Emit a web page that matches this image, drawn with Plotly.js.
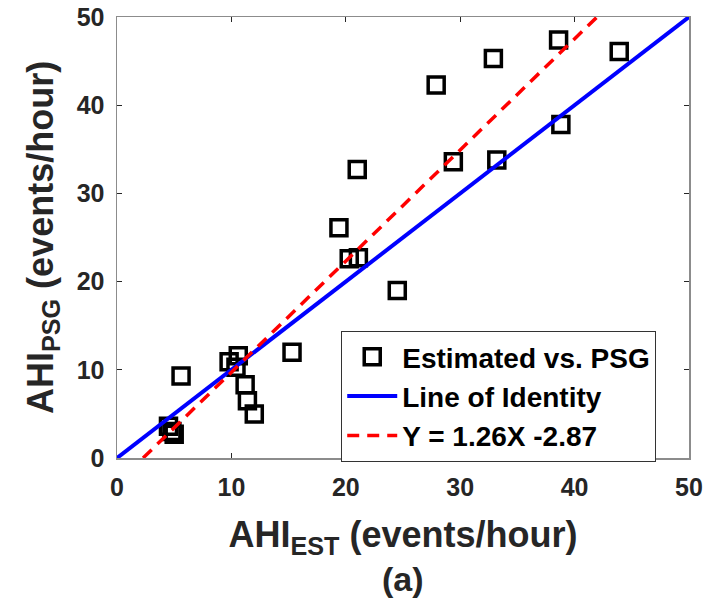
<!DOCTYPE html>
<html>
<head>
<meta charset="utf-8">
<script src="https://cdn.plot.ly/plotly-3.0.1.min.js"></script>
<style>html,body{margin:0;padding:0;background:#fff;}#chart{width:709px;height:613px;}</style>
</head>
<body>
<div id="chart"></div>
<script>
// Data
const ahiEst = [38.6, 43.9, 32.9, 27.9, 38.8, 29.4, 33.2, 21.0, 19.4, 20.3, 21.1, 24.5, 15.3, 9.8, 10.6, 10.4, 5.6, 11.2, 11.4, 12.0, 4.5, 4.8, 5.0];
const ahiPsg = [47.4, 46.1, 45.3, 42.3, 37.8, 33.6, 33.8, 32.7, 26.1, 22.6, 22.7, 19.0, 12.0, 10.9, 11.6, 10.3, 9.3, 8.3, 6.5, 5.0, 3.6, 3.0, 2.7];
const identityX = [0, 50];
const fitSlope = 1.26;
const fitIntercept = -2.87;
const fitX = [(0 - fitIntercept) / fitSlope, (50 - fitIntercept) / fitSlope];
const fitY = fitX.map(x => fitSlope * x + fitIntercept);
const tickVals = [0, 10, 20, 30, 40, 50];

const fontFam = 'Liberation Sans, Arial, sans-serif';
const txtColor = '#262626';

const traces = [
  {
    x: ahiEst, y: ahiPsg, type: 'scatter', mode: 'markers',
    name: 'Estimated vs. PSG',
    marker: {symbol: 'square-open', size: 16, color: '#000', line: {width: 3.5, color: '#000'}},
    cliponaxis: false
  },
  {
    x: identityX, y: identityX, type: 'scatter', mode: 'lines',
    name: 'Line of Identity',
    line: {color: '#0000ff', width: 4}
  },
  {
    x: fitX, y: fitY, type: 'scatter', mode: 'lines',
    name: 'Y = 1.26X -2.87',
    line: {color: '#ff0000', width: 3.5, dash: '12px,8px'}
  }
];

const axisCommon = {
  range: [0, 50], tickvals: tickVals, ticks: 'inside', ticklen: 5, tickwidth: 1,
  tickcolor: '#262626', showline: true, linecolor: '#8c8c8c', linewidth: 1.5,
  mirror: 'ticks', showgrid: false, zeroline: false, ticklabelstandoff: 6,
  tickfont: {family: fontFam, size: 25, color: txtColor, weight: 'bold'}
};

const layout = {
  width: 709, height: 613,
  margin: {l: 117, r: 20, t: 17, b: 155},
  paper_bgcolor: '#fff', plot_bgcolor: '#fff',
  showlegend: true,
  xaxis: Object.assign({}, axisCommon, {
    title: {text: 'AHI<sub>EST</sub> (events/hour)', font: {family: fontFam, size: 36, color: txtColor, weight: 'bold'}, standoff: 22}
  }),
  yaxis: Object.assign({}, axisCommon, {
    title: {text: 'AHI<sub>PSG</sub> (events/hour)', font: {family: fontFam, size: 36, color: txtColor, weight: 'bold'}, standoff: 12}
  }),
  legend: {
    x: 0.392, y: 0.288, xanchor: 'left', yanchor: 'top',
    bordercolor: '#333', borderwidth: 1, bgcolor: '#fff',
    font: {family: fontFam, size: 28, color: '#000', weight: 'bold'},
    itemwidth: 50
  },
  annotations: [{
    text: '(a)', xref: 'paper', yref: 'paper', x: 0.5, y: -0.275,
    xanchor: 'center', yanchor: 'middle', showarrow: false,
    font: {family: fontFam, size: 34, color: txtColor, weight: 'bold'}
  }]
};

Plotly.newPlot('chart', traces, layout, {displayModeBar: false, staticPlot: true});
</script>
</body>
</html>
